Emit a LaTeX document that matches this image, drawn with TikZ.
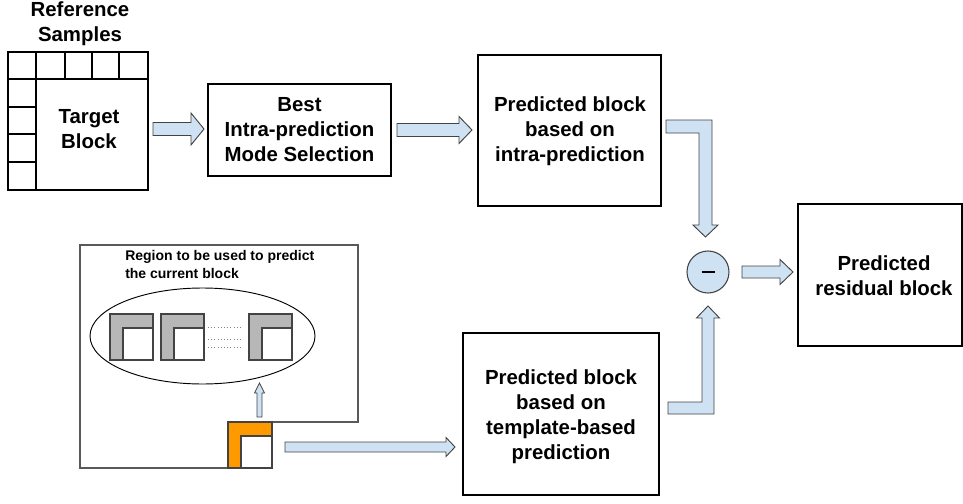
\documentclass[tikz,border=0pt]{standalone}
\usepackage{fontspec}
\setmainfont{Liberation Sans}
\usetikzlibrary{calc}

\definecolor{arrowfill}{HTML}{CFE2F3}
\definecolor{arrowline}{HTML}{434343}
\definecolor{framegray}{HTML}{595959}
\definecolor{tplgray}{HTML}{B7B7B7}
\definecolor{tplorange}{HTML}{FF9900}

% horizontal block arrow: x1, x2, y, shaft half-height, head half-height, head length
\newcommand{\fatarrowR}[6]{%
  \draw[fatarrow] (#1,#3-#4) -- (#2-#6,#3-#4) -- (#2-#6,#3-#5) -- (#2,#3)
    -- (#2-#6,#3+#5) -- (#2-#6,#3+#4) -- (#1,#3+#4) -- cycle;}

% L-shaped template: outer box, inner white square in its lower right corner
\newcommand{\tplblock}[5]{% x1, y1, x2, y2, fill colour
  \fill[#5] (#1,#2) rectangle (#3,#4);
  \draw[tplframe] (#1,#2) rectangle (#3,#4);
  \filldraw[tplframe, fill=white] (#1+13,#2+14) rectangle (#3,#4);}

\begin{document}
\begin{tikzpicture}[x=0.75pt, y=-0.75pt,
  txt/.style={font=\bfseries\fontsize{15.3}{18.8}\selectfont, align=center, inner sep=0pt},
  smalltxt/.style={font=\bfseries\fontsize{10.5}{12.8}\selectfont, align=left, inner sep=0pt},
  procbox/.style={draw=black, line width=1.5pt, inner sep=0pt},
  grid/.style={draw=black, line width=1.7pt},
  fatarrow/.style={fill=arrowfill, draw=arrowline, line width=0.7pt, line join=miter},
  tplframe/.style={draw=arrowline, line width=0.8pt},
]
\useasboundingbox (0,0) rectangle (963,503);

% reference samples around the target block
\node[txt] (refs) at (80,23.5) {Reference\\Samples};
\node[grid, minimum width=112*0.75pt, minimum height=111*0.75pt, inner sep=0pt] (target) at (92,134.5) {};
\draw[grid] (8,52) rectangle (148,190);
\draw[grid] (8,79) -- (148,79);
\draw[grid] (36,52) -- (36,190);
\foreach \xx in {65,92,119} \draw[grid] (\xx,52) -- (\xx,79);
\foreach \yy in {107,134,162} \draw[grid] (8,\yy) -- (36,\yy);
\node[txt] (targettxt) at (89,129) {Target\\Block};

% processing boxes
\node[procbox, line width=1.2pt, minimum width=183*0.75pt, minimum height=92*0.75pt] (mode) at (299.5,130) {};
\node[txt] at (mode.center) {Best\\Intra-prediction\\Mode Selection};

\node[procbox, minimum width=183*0.75pt, minimum height=151*0.75pt] (intra) at (569.5,130.5) {};
\node[txt] at (570,131.5) {Predicted block\\based on\\intra-prediction};

\node[procbox, minimum width=196*0.75pt, minimum height=162*0.75pt] (tmpl) at (561,414) {};
\node[txt] at (561,416.5) {Predicted block\\based on\\template-based\\prediction};

\node[procbox, minimum width=164*0.75pt, minimum height=142*0.75pt] (resid) at (880,275) {};
\node[txt] at (884,276) {Predicted\\residual block};

% subtraction
\node[circle, fill=arrowfill, draw=arrowline, line width=0.8pt, minimum size=42*0.75pt, inner sep=0pt] (minus) at (708,272) {};
\draw[black, line width=2.1pt] (701.5,272) -- (715,272);

% straight block arrows
\fatarrowR{153}{204}{129}{6.5}{16}{13}
\fatarrowR{397}{472}{130}{6.5}{13.5}{13}
\fatarrowR{742}{793}{272}{6}{12.5}{13}
\fatarrowR{285}{455}{447}{5}{9.5}{9}

% elbow arrows into the subtraction
\draw[fatarrow] (666,120) -- (712,120) -- (712,225) -- (718,225) -- (705.5,237)
  -- (693,225) -- (699,225) -- (699,133) -- (666,133) -- cycle;
\draw[fatarrow] (668,414) -- (714,414) -- (714,318) -- (719.5,318) -- (708,306)
  -- (696.5,318) -- (702,318) -- (702,402) -- (668,402) -- cycle;

% search region
\draw[framegray, line width=0.9pt] (272,422) -- (358,422) -- (358,245) -- (80,245)
  -- (80,468) -- (228,468);
\node[smalltxt, anchor=west] (regtxt) at (125,264.5) {Region to be used to predict\\the current block};
\draw[black, line width=0.7pt] (202.5,336) ellipse [x radius=112.5, y radius=48];
\tplblock{110}{314}{153}{360}{tplgray}
\tplblock{161}{314}{204}{360}{tplgray}
\tplblock{249}{314}{292}{360}{tplgray}
\foreach \yy in {327,339,347}
  \draw[gray, line width=0.4pt, dash pattern=on 0.8pt off 1.6pt] (208,\yy) -- (242,\yy);

% current template
\tplblock{228}{422}{272}{468}{tplorange}

% small arrow up into the region
\draw[fatarrow, line width=0.6pt] (257,417) -- (257,393) -- (254.5,393) -- (259.5,383)
  -- (264.5,393) -- (262,393) -- (262,417) -- cycle;
\end{tikzpicture}
\end{document}
